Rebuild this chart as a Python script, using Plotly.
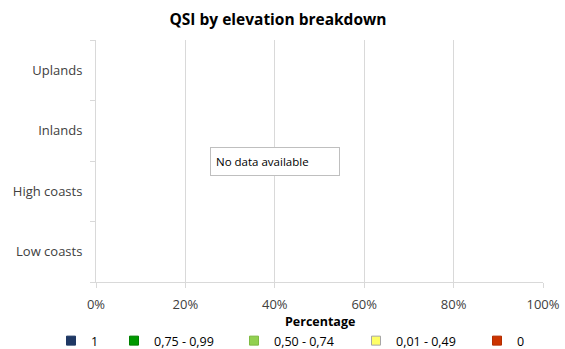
import plotly.graph_objects as go

categories = ['Low coasts', 'High coasts', 'Inlands', 'Uplands']
series_names = ['1', '0,75 - 0,99', '0,50 - 0,74', '0,01 - 0,49', '0']
series_colors = ['#1f3864', '#009900', '#92d050', '#ffff66', '#cc3300']
series_edges = ['#1f3864', '#008000', '#7fba42', '#a6a6a6', '#b32d00']
# no values available for any elevation class
series_values = [[None, None, None, None] for _ in series_names]
x_ticks = [0, 20, 40, 60, 80, 100]
legend_x = [51, 114, 234, 356, 477]

FONT = 'Open Sans'
L, R, T, B = 96, 22, 40, 67
W, H = 565, 349
plot_h = H - T - B

fig = go.Figure()
for i, (name, color, edge, vals) in enumerate(zip(series_names, series_colors,
                                                  series_edges, series_values)):
    leg = 'legend' if i == 0 else 'legend%d' % (i + 1)
    fig.add_trace(go.Scatter(
        y=categories, x=vals, name=name, mode='markers',
        marker=dict(symbol='square', size=9, color=color,
                    line=dict(color=edge, width=1)),
        legend=leg, showlegend=True,
    ))

layout = dict(
    width=W, height=H,
    margin=dict(l=L, r=R, t=T, b=B),
    paper_bgcolor='white', plot_bgcolor='white',
    showlegend=True,
    font=dict(family=FONT, size=13, color='#404040'),
    title=dict(text='<b>QSI by elevation breakdown</b>', x=0.492, xanchor='center',
               xref='container', yref='container',
               y=1 - 20 / H, yanchor='middle', automargin=False,
               font=dict(family=FONT, size=15.5, color='#000000')),
    xaxis=dict(range=[0, 100], tickvals=x_ticks, automargin=False,
               ticktext=['%d%%' % v for v in x_ticks],
               showgrid=True, gridcolor='#d9d9d9', gridwidth=1,
               showline=True, linecolor='#d9d9d9', ticks='outside',
               tickcolor='#d9d9d9', ticklen=5, zeroline=False,
               ticklabelstandoff=5, tickfont=dict(color='#404040')),
    yaxis=dict(type='category', categoryarray=categories, range=[-0.5, 3.5],
               automargin=False,
               showgrid=False, showline=True, linecolor='#d9d9d9',
               ticks='outside', tickson='boundaries', tickcolor='#d9d9d9',
               ticklen=5, ticklabelstandoff=10, tickfont=dict(color='#404040')),
    annotations=[
        dict(x=40, y=1.5, xref='x', yref='y', text='No data available',
             showarrow=False, align='left', bgcolor='white',
             bordercolor='#bfbfbf', borderwidth=1, borderpad=5,
             width=118, height=17,
             font=dict(family=FONT, size=11.5, color='#000000')),
        # x axis title (placed by hand, standoff needs automargin)
        dict(x=0.5, y=-(321 - (H - B)) / plot_h, xref='paper', yref='paper',
             text='<b>Percentage</b>', showarrow=False, yanchor='middle',
             font=dict(family=FONT, size=12.5, color='#000000')),
    ],
)

for i, px in enumerate(legend_x):
    key = 'legend' if i == 0 else 'legend%d' % (i + 1)
    layout[key] = dict(
        x=px / W, y=(H - 341) / H, xref='container', yref='container',
        xanchor='left', yanchor='middle', orientation='h',
        bgcolor='rgba(0,0,0,0)', itemwidth=30,
        font=dict(family=FONT, size=12.5, color='#000000'),
        tracegroupgap=0,
    )

fig.update_layout(**layout)
# drop the default page margin so the figure sits at the window corner
fig.write_html("out.html", config={'displayModeBar': False},
               post_script="document.body.style.margin='0';")
